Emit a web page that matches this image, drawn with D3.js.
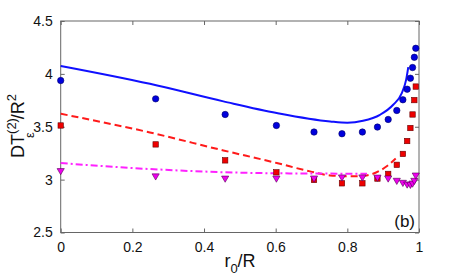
<!DOCTYPE html>
<html>
<head>
<meta charset="utf-8">
<script src="https://cdn.jsdelivr.net/npm/d3@7"></script>
<style>
  body { margin: 0; background: #fff; }
  text { font-family: "Liberation Sans", Arial, sans-serif; }
</style>
</head>
<body>
<svg></svg>
<script>
var svgWidth = 463;
var svgHeight = 279;

// simulation points (shared abscissa)
var xPts = [0, 0.265, 0.459, 0.602, 0.707, 0.785, 0.842, 0.884, 0.914, 0.938, 0.955, 0.967, 0.976, 0.982, 0.987, 0.991];
var circleVals = [3.937, 3.764, 3.616, 3.512, 3.45, 3.434, 3.45, 3.497, 3.569, 3.654, 3.755, 3.855, 3.959, 4.06, 4.157, 4.242];
var squareVals = [3.512, 3.333, 3.182, 3.069, 2.997, 2.965, 2.965, 3.01, 3.054, 3.14, 3.243, 3.365, 3.488, 3.616, 3.752, 3.88];
var triVals = [3.08, 3.03, 3.009, 3.009, 3.01, 3.02, 3.02, 3.018, 3.01, 2.988, 2.969, 2.953, 2.95, 2.962, 2.988, 3.038];

// theory curves
var blueX = [0, 0.249, 0.454, 0.603, 0.752, 0.8, 0.844, 0.891, 0.928, 0.952, 0.964, 0.970];
var blueY = [4.075, 3.906, 3.74, 3.63, 3.55, 3.538, 3.557, 3.613, 3.708, 3.818, 3.943, 4.063];
var redX = [0, 0.249, 0.454, 0.603, 0.696, 0.752, 0.808, 0.854, 0.891, 0.91, 0.935];
var redY = [3.623, 3.446, 3.276, 3.157, 3.078, 3.04, 3.031, 3.04, 3.085, 3.126, 3.2];
var magX = [0, 0.249, 0.454, 0.603, 0.752, 0.855];
var magY = [3.157, 3.10, 3.07, 3.06, 3.057, 3.055];

var xTicks = [0, 0.2, 0.4, 0.6, 0.8, 1];
var yTicks = [2.5, 3, 3.5, 4, 4.5];

var svg = d3.select('svg')
            .attr('width', svgWidth)
            .attr('height', svgHeight);

var x = d3.scaleLinear().domain([0, 1]).range([60.7, 419]);
var y = d3.scaleLinear().domain([2.5, 4.5]).range([232.5, 21]);

var axisColor = '#666';

/* box and ticks */
svg.append('rect')
   .attr('x', x(0)).attr('y', y(4.5))
   .attr('width', x(1) - x(0)).attr('height', y(2.5) - y(4.5))
   .style('fill', 'none').style('stroke', axisColor).style('stroke-width', 1);

var fmt = d => String(d);

svg.append('g').attr('transform', `translate(0,${y(2.5)})`)
   .call(d3.axisBottom(x).tickValues(xTicks).tickSizeInner(-4).tickSizeOuter(0).tickPadding(10).tickFormat(fmt));
svg.append('g').attr('transform', `translate(0,${y(4.5)})`)
   .call(d3.axisTop(x).tickValues(xTicks).tickSizeInner(-4).tickSizeOuter(0).tickFormat(''));
svg.append('g').attr('transform', `translate(${x(0)},0)`)
   .call(d3.axisLeft(y).tickValues(yTicks).tickSizeInner(-4).tickSizeOuter(0).tickPadding(8).tickFormat(fmt));
svg.append('g').attr('transform', `translate(${x(1)},0)`)
   .call(d3.axisRight(y).tickValues(yTicks).tickSizeInner(-4).tickSizeOuter(0).tickFormat(''));

svg.selectAll('.domain').remove();
svg.selectAll('.tick line').style('stroke', axisColor);
svg.selectAll('.tick text').style('font-size', '14px').style('fill', '#111')
   .style('font-family', '"Liberation Sans", Arial, sans-serif');

/* theory curves */
function drawCurve(xs, ys, color, dash){
    var line = d3.line()
                 .x(d => x(d[0]))
                 .y(d => y(d[1]))
                 .curve(d3.curveMonotoneX);
    svg.append('path')
       .datum(xs.map((v, i) => [v, ys[i]]))
       .attr('d', line)
       .style('fill', 'none')
       .style('stroke', color)
       .style('stroke-width', 2)
       .style('stroke-dasharray', dash);
}
drawCurve(blueX, blueY, '#1010ff', null);
drawCurve(redX, redY, '#ff1a1a', '7,4');
drawCurve(magX, magY, '#ff22ff', '7,3,2,3');

/* simulation markers */
svg.selectAll('circle.sim')
   .data(xPts)
   .enter()
   .append('circle')
   .attr('class', 'sim')
   .attr('cx', d => x(d))
   .attr('cy', (d, i) => y(circleVals[i]))
   .attr('r', 3.2)
   .style('fill', '#0000dd')
   .style('stroke', '#000066')
   .style('stroke-width', 0.6);

svg.selectAll('rect.sim')
   .data(xPts)
   .enter()
   .append('rect')
   .attr('class', 'sim')
   .attr('x', d => x(d) - 2.7)
   .attr('y', (d, i) => y(squareVals[i]) - 2.7)
   .attr('width', 5.4)
   .attr('height', 5.4)
   .style('fill', '#ee0000')
   .style('stroke', '#660000')
   .style('stroke-width', 0.6);

svg.selectAll('path.tri')
   .data(xPts)
   .enter()
   .append('path')
   .attr('class', 'tri')
   .attr('d', (d, i) => {
       var cx = x(d), cy = y(triVals[i]);
       return `M${cx - 3.6},${cy - 2.6}L${cx + 3.6},${cy - 2.6}L${cx},${cy + 3.6}Z`;
   })
   .style('fill', '#ee00ee')
   .style('stroke', '#550055')
   .style('stroke-width', 0.6);

/* labels */
var xl = svg.append('text')
   .attr('x', 240).attr('y', 267)
   .attr('text-anchor', 'middle')
   .style('font-size', '18px').style('fill', '#111');
xl.append('tspan').text('r');
xl.append('tspan').attr('dy', 6).style('font-size', '13px').text('0');
xl.append('tspan').attr('dy', -6).text('/R');

var yl = svg.append('text')
   .attr('transform', 'translate(24,126) rotate(-90)')
   .attr('text-anchor', 'middle')
   .style('font-size', '18px').style('fill', '#111');
yl.append('tspan').text('DT');
yl.append('tspan').attr('dy', -8).style('font-size', '13px').text('(2)');
yl.append('tspan').attr('dx', -20).attr('dy', 18).style('font-size', '13px').text('ε');
yl.append('tspan').attr('dx', 13).attr('dy', -10).text('/R');
yl.append('tspan').attr('dy', -8).style('font-size', '13px').text('2');

svg.append('text')
   .attr('x', 415).attr('y', 227)
   .attr('text-anchor', 'end')
   .style('font-size', '17px').style('fill', '#111')
   .text('(b)');
</script>
</body>
</html>
